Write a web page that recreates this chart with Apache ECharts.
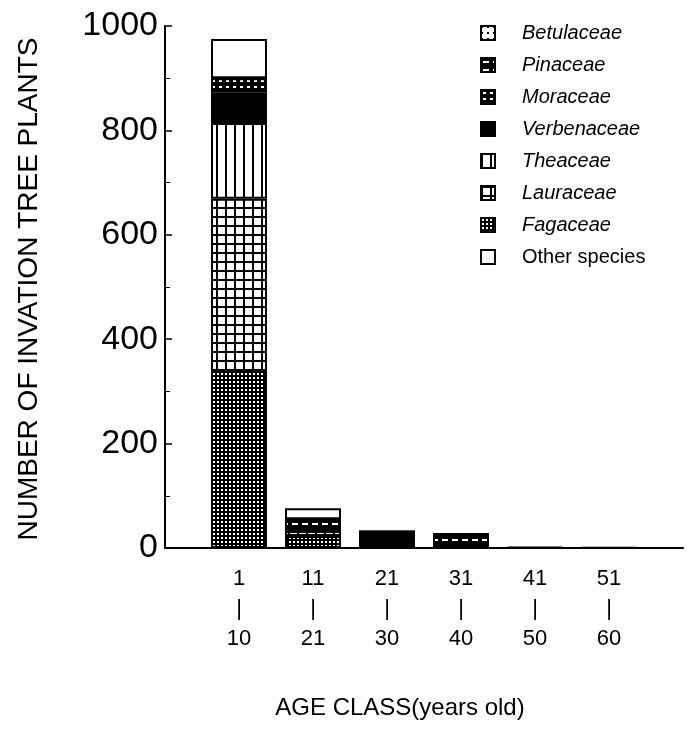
<!DOCTYPE html>
<html><head><meta charset="utf-8">
<script src="https://cdn.jsdelivr.net/npm/echarts@6/dist/echarts.min.js"></script>
<style>html,body{margin:0;padding:0;background:#fff}#c{width:688px;height:740px}</style>
</head><body><div id="c"></div>
<script>
// ---- data ----
const categories = ['1\n|\n10', '11\n|\n21', '21\n|\n30', '31\n|\n40', '41\n|\n50', '51\n|\n60'];
const fagaceae    = [339, 23, 0, 0, 0, 0];
const lauraceae   = [330, 13, 0, 0, 0, 0];
const theaceae    = [145, 0, 0, 0, 0, 0];
const verbenaceae = [58, 0, 31, 0, 0, 0];
const moraceae    = [28, 0, 0, 0, 0, 0];
const pinaceae    = [0, 19, 0, 27, 0, 0];
const betulaceae  = [0, 0, 0, 0, 0, 0];
const otherSpecies= [75, 21, 0, 0, 2, 1];
const yTicks = [0, 200, 400, 600, 800, 1000];

// axis slots: an empty slot before and after the six age classes
const axisCats = [''].concat(categories, ['']);

// ---- patterns ----
function pat(w, h, draw) {
  const c = document.createElement('canvas'); c.width = w; c.height = h;
  const g = c.getContext('2d'); draw(g, w, h);
  return { image: c, repeat: 'repeat' };
}
const P = {
  Fagaceae: pat(4, 4, (g) => { g.fillStyle = '#000'; g.fillRect(0,0,4,4); g.fillStyle = '#fff'; g.fillRect(1,1,2,2); }),
  Lauraceae: pat(9, 9, (g) => { g.fillStyle = '#000'; g.fillRect(0,0,9,9); g.fillStyle = '#fff'; g.fillRect(2,2,7,7); }),
  Theaceae: pat(9, 4, (g) => { g.fillStyle = '#fff'; g.fillRect(0,0,9,4); g.fillStyle = '#000'; g.fillRect(0,0,2,4); }),
  Verbenaceae: '#000',
  Moraceae: pat(7, 6, (g) => { g.fillStyle = '#000'; g.fillRect(0,0,7,6); g.fillStyle = '#fff'; g.fillRect(2,2,3,2); }),
  Pinaceae: pat(10, 8, (g) => { g.fillStyle = '#000'; g.fillRect(0,0,10,8); g.fillStyle = '#fff'; g.fillRect(2,3,6,2); }),
  Betulaceae: pat(6, 6, (g) => { g.fillStyle = '#fff'; g.fillRect(0,0,6,6); g.fillStyle = '#000'; g.fillRect(0,0,2,2); }),
  'Other species': '#fff'
};

const seriesDefs = [
  ['Fagaceae', fagaceae], ['Lauraceae', lauraceae], ['Theaceae', theaceae],
  ['Verbenaceae', verbenaceae], ['Moraceae', moraceae], ['Pinaceae', pinaceae],
  ['Betulaceae', betulaceae], ['Other species', otherSpecies]
];
const legendOrder = ['Betulaceae','Pinaceae','Moraceae','Verbenaceae','Theaceae','Lauraceae','Fagaceae','Other species'];

const FONT = '"Liberation Sans", Arial, sans-serif';
const chart = echarts.init(document.getElementById('c'), null, { renderer: 'canvas' });
chart.setOption({
  animation: false,
  backgroundColor: '#fff',
  grid: { left: 165, right: 5, top: 26, bottom: 192 },
  legend: {
    data: legendOrder, orient: 'vertical', left: 475, top: 18,
    itemWidth: 14, itemHeight: 14, itemGap: 12, icon: 'rect',
    selectedMode: false,
    formatter: (n) => n === 'Other species' ? '{n|' + n + '}' : '{i|' + n + '}',
    textStyle: {
      padding: [0, 0, 0, 22],
      rich: {
        i: { fontFamily: FONT, fontSize: 20, fontStyle: 'italic', color: '#000' },
        n: { fontFamily: FONT, fontSize: 20, color: '#000' }
      }
    }
  },
  xAxis: {
    type: 'category', data: axisCats, boundaryGap: false,
    splitLine: { show: false },
    axisLine: { show: true, lineStyle: { color: '#000', width: 2 } },
    axisTick: { show: false },
    axisLabel: { interval: 0, margin: 16, fontFamily: FONT, fontSize: 22, lineHeight: 30, color: '#000' }
  },
  yAxis: {
    type: 'value', min: yTicks[0], max: yTicks[yTicks.length - 1], interval: 200,
    splitLine: { show: false },
    axisLine: { show: true, lineStyle: { color: '#000', width: 2 } },
    axisTick: { show: true, inside: true, length: 7, lineStyle: { color: '#000', width: 1.5 } },
    minorTick: { show: true, splitNumber: 2, length: 5, lineStyle: { color: '#000', width: 1 } },
    axisLabel: { margin: 7, fontFamily: FONT, fontSize: 34, color: '#000', formatter: (v) => String(v) }
  },
  graphic: [
    { type: 'text', x: 29, y: 289, rotation: Math.PI / 2,
      style: { text: 'NUMBER OF INVATION TREE PLANTS', fontFamily: FONT, fontSize: 28, fill: '#000', align: 'center', verticalAlign: 'middle' } },
    { type: 'text', x: 400, y: 708,
      style: { text: 'AGE CLASS(years old)', fontFamily: FONT, fontSize: 24, fill: '#000', align: 'center', verticalAlign: 'middle' } }
  ],
  series: seriesDefs.map(([name, vals]) => ({
    name, type: 'bar', stack: 'all', barWidth: 56,
    data: vals.map((v, i) => [i + 1, v]),
    itemStyle: { color: P[name], borderColor: '#000', borderWidth: 2 }
  }))
});
</script></body></html>
